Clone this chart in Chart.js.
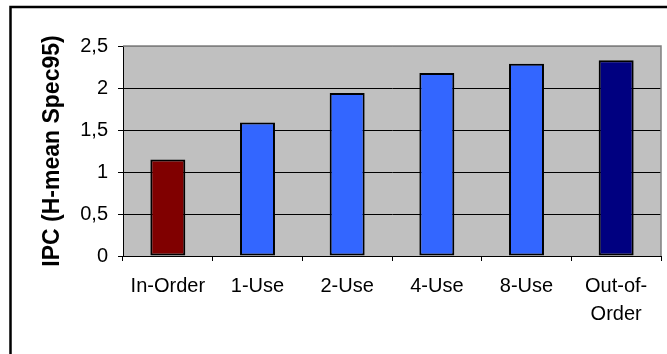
<!DOCTYPE html>
<html>
<head>
<meta charset="utf-8">
<script src="https://cdn.jsdelivr.net/npm/chart.js@4/dist/chart.umd.min.js"></script>
<style>
    html, body { margin: 0; padding: 0; background: #fff; }
    #ipcChart { display: block; }
</style>
</head>
<body>
<canvas id="ipcChart" width="667" height="354"></canvas>
<script>
    var categories = ['In-Order', '1-Use', '2-Use', '4-Use', '8-Use', ['Out-of-', 'Order']];
    var ipc = [1.15, 1.59, 1.94, 2.18, 2.29, 2.33];
    var yMin = 0;
    var yMax = 2.5;
    var yStep = 0.5;
    var yTitle = 'IPC (H-mean Spec95)';

    var barColors = ['#800000', '#3366ff', '#3366ff', '#3366ff', '#3366ff', '#000080'];

    Chart.defaults.font.family = '"Liberation Sans", Arial, sans-serif';
    Chart.defaults.color = '#000';

    // grey plot background + outer frame, grey top/right edge of plot
    var frame = {
        id: 'frame',
        beforeDraw: function(chart) {
            var ctx = chart.ctx;
            var a = chart.chartArea;
            ctx.save();
            ctx.fillStyle = '#c0c0c0';
            ctx.fillRect(a.left, a.top, a.right - a.left, a.bottom - a.top);
            ctx.restore();
        },
        afterDraw: function(chart) {
            var ctx = chart.ctx;
            var a = chart.chartArea;
            ctx.save();
            ctx.strokeStyle = '#808080';
            ctx.lineWidth = 1.5;
            ctx.beginPath();
            ctx.moveTo(a.left, a.top);
            ctx.lineTo(a.right, a.top);
            ctx.lineTo(a.right, a.bottom);
            ctx.stroke();

            ctx.strokeStyle = '#000';
            ctx.lineWidth = 2.5;
            ctx.beginPath();
            ctx.moveTo(10.5, chart.height + 5);
            ctx.lineTo(10.5, 7);
            ctx.lineTo(chart.width + 5, 7);
            ctx.stroke();
            ctx.restore();
        }
    };

    new Chart(document.getElementById('ipcChart'), {
        type: 'bar',
        data: {
            labels: categories,
            datasets: [{
                label: yTitle,
                data: ipc,
                backgroundColor: barColors,
                borderColor: '#000',
                borderWidth: 2,
                borderSkipped: false,
                barPercentage: 0.39,
                categoryPercentage: 1
            }]
        },
        options: {
            responsive: false,
            animation: false,
            devicePixelRatio: 1,
            layout: {
                padding: { left: 39, top: 46, right: 6, bottom: 28 }
            },
            plugins: {
                legend: { display: false },
                tooltip: { enabled: false }
            },
            scales: {
                x: {
                    afterFit: function(scale) { scale.height = 70; },
                    grid: {
                        drawOnChartArea: false,
                        drawTicks: true,
                        tickLength: 5,
                        color: '#000',
                        offset: true
                    },
                    border: { display: true, color: '#000', width: 1 },
                    ticks: {
                        font: { size: 20, lineHeight: 1.4 },
                        padding: 11,
                        maxRotation: 0,
                        autoSkip: false
                    }
                },
                y: {
                    min: yMin,
                    max: yMax,
                    afterFit: function(scale) { scale.width = 84; },
                    grid: {
                        color: function(c) { return c.tick && c.tick.value === yMax ? '#808080' : '#000'; },
                        tickColor: '#000',
                        tickLength: 5,
                        lineWidth: 1
                    },
                    border: { display: true, color: '#000', width: 1 },
                    ticks: {
                        stepSize: yStep,
                        font: { size: 20 },
                        padding: 10,
                        callback: function(v) { return String(v).replace('.', ','); }
                    },
                    title: {
                        display: true,
                        text: yTitle,
                        padding: 0,
                        font: { size: 23, weight: 'bold' }
                    }
                }
            }
        },
        plugins: [frame]
    });
</script>
</body>
</html>
